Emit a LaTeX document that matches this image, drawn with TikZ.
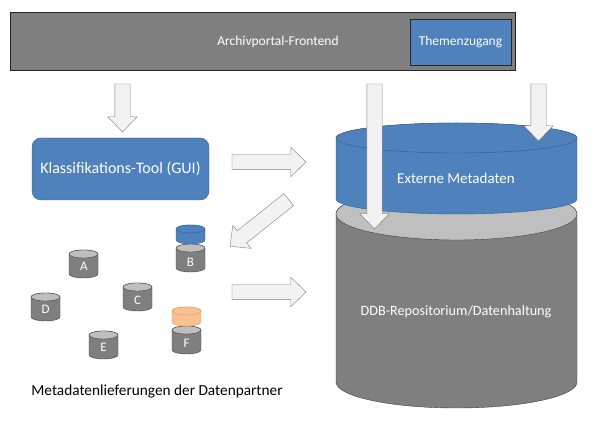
\documentclass[tikz,border=0pt]{standalone}
\usepackage{fontspec}
\setmainfont{Carlito}
\usetikzlibrary{shapes.arrows}
\definecolor{barGray}{HTML}{7F7F7F}
\definecolor{topGray}{HTML}{BFBFBF}
\definecolor{lineGray}{HTML}{404040}
\definecolor{boxBlue}{HTML}{4F81BD}
\definecolor{lineBlue}{HTML}{385D8A}
\definecolor{capOrange}{HTML}{FAC090}
\definecolor{lineOrange}{HTML}{D99A66}
\definecolor{arrowFill}{HTML}{F2F2F2}

\tikzset{
	drum body/.style={draw=lineGray, fill=barGray},
	drum top/.style={draw=lineGray, fill=topGray},
	% #1 = x radius, #2 = y radius, #3 = distance top to bottom ellipse
	pics/drum/.style args={#1,#2,#3}{code={
		\path[drum body] (-#1,0) -- (-#1,-#3) arc[start angle=180, end angle=360, x radius=#1pt, y radius=#2pt]
			-- (#1,0) arc[start angle=0, end angle=180, x radius=#1pt, y radius=#2pt] -- cycle;
		\path[drum top] (0,0) ellipse[x radius=#1pt, y radius=#2pt];
	}}
}

\begin{document}
\begin{tikzpicture}[x=1pt, y=1pt, font=\fontsize{13.5}{16}\selectfont,
	fat arrow/.style={single arrow, draw=barGray, fill=arrowFill, inner xsep=0pt, inner ysep=7.5pt,
		single arrow head extend=7pt, single arrow tip angle=88},
	box node/.style={draw=lineBlue, fill=boxBlue, text=white},
	white text/.style={text=white},
	blue drum/.style={drum body/.style={draw=lineBlue, fill=boxBlue}, drum top/.style={draw=lineBlue, fill=boxBlue}},
	orange drum/.style={drum body/.style={draw=lineOrange, fill=capOrange}, drum top/.style={draw=lineOrange, fill=capOrange}},
	letter/.style={text=white, font=\fontsize{13}{15}\selectfont}]
	
	\useasboundingbox (0,0) rectangle (600,442);
	
	% frontend bar
	\node[draw=black!85, fill=barGray, minimum width=505pt, minimum height=58pt] (bar) at (262.5,401) {};
	\node[white text] (frontend) at (278,400) {Archivportal-Frontend};
	\node[box node, draw=black!85, minimum width=101pt, minimum height=46pt] (themen) at (460.5,400) {Themenzugang};
	
	% classification tool
	\node[box node, rounded corners=9pt, minimum width=177pt, minimum height=62pt,
		font=\fontsize{16}{18}\selectfont] (tool) at (120.5,273) {Klassifikations-Tool (GUI)};
	
	% repository and external metadata
	\pic at (456.5,228) {drum={120.5,26,168}};
	\node[white text, font=\fontsize{14.2}{17}\selectfont] (repo) at (456,130) {DDB-Repositorium/Datenhaltung};
	\pic[blue drum] at (456.5,304) {drum={120.5,15,61}};
	\node[white text, font=\fontsize{15}{18}\selectfont] (ext) at (456,264) {Externe Metadaten};
	
	% partner deliveries
	\pic at (83.5,188) {drum={14.5,4,20}};
	\node[letter] (A) at (84,176) {A};
	\pic at (190.5,194) {drum={14.5,4,20}};
	\pic[blue drum] at (190.5,213) {drum={14.5,4,11}};
	\node[letter] (B) at (190.5,180) {B};
	\pic at (137.5,155) {drum={14.5,4,20}};
	\node[letter] (C) at (137.5,142) {C};
	\pic at (45.5,145) {drum={14.5,4,20}};
	\node[letter] (D) at (45.5,133) {D};
	\pic at (103.5,107) {drum={14.5,4,20}};
	\node[letter] (E) at (103.5,95) {E};
	\pic at (186.5,112) {drum={14.5,4,20}};
	\pic[orange drum] at (186.5,131) {drum={14.5,4,11}};
	\node[letter] (F) at (186.5,99) {F};
	\node[font=\fontsize{15.3}{18}\selectfont] (partner) at (157,50) {Metadatenlieferungen der Datenpartner};
	
	% block arrows
	\node[fat arrow, rotate=-90, minimum height=48pt] (a1) at (122.5,338) {};
	\node[fat arrow, minimum height=74pt] (a2) at (265,280) {};
	\node[fat arrow, rotate=218.5, minimum height=75pt] (a3) at (262.5,221.5) {};
	\node[fat arrow, minimum height=74pt] (a4) at (265,150) {};
	\node[fat arrow, rotate=-90, minimum height=145pt] (a5) at (374.5,289.5) {};
	\node[fat arrow, rotate=-90, minimum height=57pt] (a6) at (538.5,333.5) {};
\end{tikzpicture}
\end{document}
